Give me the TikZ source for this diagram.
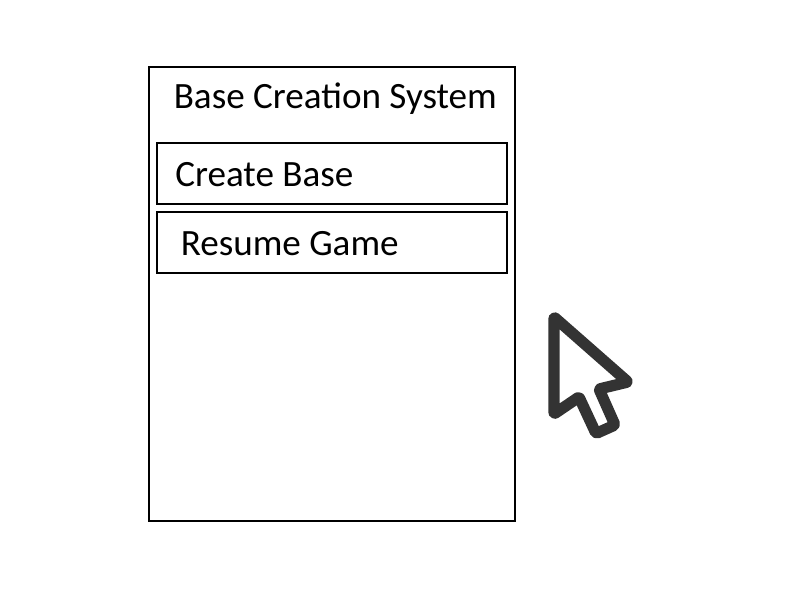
\documentclass[tikz,border=0pt]{standalone}
\usepackage{fontspec}
\setmainfont{Carlito}
\usetikzlibrary{positioning}

\begin{document}
\begin{tikzpicture}[
		x=0.025cm, y=-0.025cm,
		panel/.style={draw=black,line width=0.05cm,inner sep=0pt,anchor=north west},
		caption/.style={inner sep=0pt,anchor=base west,font=\fontsize{26.4}{30}\selectfont},
		pointer/.style={draw=black!80,line width=0.28cm,line join=round,rounded corners=1pt,fill=white},
	]
	\useasboundingbox (0,0) rectangle (800,600);
	\node[panel,minimum width=9.15cm,minimum height=11.35cm] (menu) at (148,66) {};
	\node[panel,minimum width=8.75cm,minimum height=1.525cm] (create) at (156,142) {};
	\node[panel,minimum width=8.75cm,minimum height=1.525cm] (resume) at (156,211) {};
	\node[caption] (title) at (173.5,108.5) {Base Creation System};
	\node[caption] (createtext) at (175,186.5) {Create Base};
	\node[caption] (resumetext) at (180.5,255.5) {Resume Game};
	% cursor
	\draw[pointer] (554,317) -- (554,414) -- (579,397) -- (596,433.5) -- (615,425) -- (599,389) -- (628,382) -- cycle;
\end{tikzpicture}
\end{document}
